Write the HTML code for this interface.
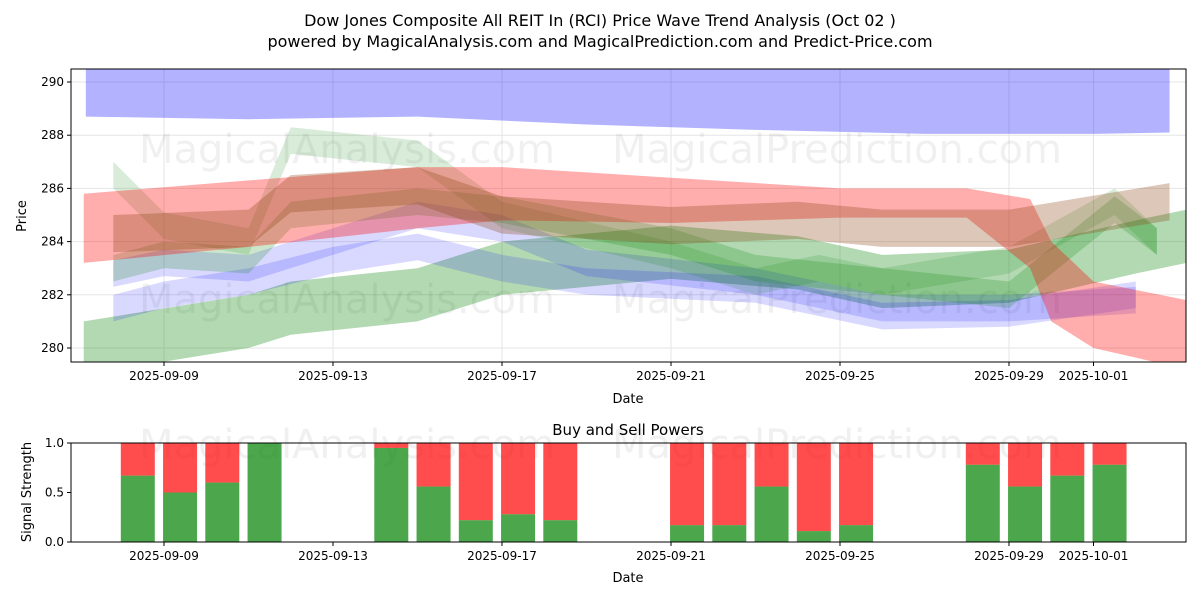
<!DOCTYPE html>
<html><head><meta charset="utf-8">
<style>
body{margin:0;background:#fff;font-family:"Liberation Sans","DejaVu Sans",sans-serif;}
svg text{font-family:"DejaVu Sans","Liberation Sans",sans-serif;}
</style></head>
<body>
<svg id="c" width="1200" height="600" viewBox="0 0 1200 600">
<text x="600" y="26" text-anchor="middle" font-size="16" fill="#000">Dow Jones Composite All REIT In (RCI) Price Wave Trend Analysis (Oct 02 )</text>
<text x="600" y="47" text-anchor="middle" font-size="16" fill="#000">powered by MagicalAnalysis.com and MagicalPrediction.com and Predict-Price.com</text>
<g id="topPanel"></g>
<g id="botPanel"></g>
</svg>
<script>
// ---- data ----
const xTickLabels = ["2025-09-09","2025-09-13","2025-09-17","2025-09-21","2025-09-25","2025-09-29","2025-10-01"];
const xTickDays = [9,13,17,21,25,29,31];
const yTicks = [280,282,284,286,288,290];
const sigTicks = [0,0.5,1.0];
const blueTopDays = [7.15,11,15,19,23,27,31,32.8];
const blueTopLow = [288.7,288.6,288.7,288.4,288.2,288.05,288.05,288.1];
const redDays = [7.1,11,15,17,21,25,28,29.5,30,31,33.2];
const redHigh = [285.8,286.3,286.8,286.8,286.4,286,286,285.6,284,282.5,281.8];
const redLow  = [283.2,283.8,284.5,284.8,284.7,284.9,284.9,283.0,281,280,279.2];
const tanDays = [7.8,11,12,15,17,21,24,26,29,32.8];
const tanMid  = [284.3,284.5,285.8,286.1,285,284.6,284.8,284.5,284.5,285.5];
const greenLowDays = [7.1,11,12,15,17,21,24,26,29,32,33.2];
const greenLowMid  = [280.0,281,281.5,282,283,283.6,283.2,282.5,282.7,283.8,284.2];
const greenUpDays = [7.8,9,11,12,15,17,21,23,24.5,26,29,31.5,32.5];
const greenUpMid  = [286.5,284.6,284,287.8,287.3,285,283.5,282.5,283,282.5,283.3,285.5,284];
const blueADays = [7.8,9,11,13,15,17,19,23,26,29,32];
const blueAMid  = [281.5,282,282.5,283.3,283.8,283,282.5,282.2,281.2,281.3,282];
const blueBDays = [7.8,9,11,13,15,17,19,23,26,29,32];
const blueBMid  = [282.8,283.2,283,284,285,284.5,283.2,282.5,281.5,281.5,281.8];
const tealDays = [7.8,9,11,12,15,17,21,23,26,29,31.5,32.5];
const tealMid  = [283,283.5,283.3,285,285.5,285.2,284,283,282.5,282,285.2,284];
const barDays  = [8.38,9.38,10.38,11.38,14.38,15.38,16.38,17.38,18.38,21.38,22.38,23.38,24.38,25.38,28.38,29.38,30.38,31.38];
const buyPower = [0.67,0.5,0.6,1.0,0.95,0.56,0.22,0.28,0.22,0.17,0.17,0.56,0.11,0.17,0.78,0.56,0.67,0.78];

const NS="http://www.w3.org/2000/svg";
const L=71,R=1186,T1=69,B1=362,T2=443,B2=542;
const x=d=>164+(d-9)*42.25;
const y=v=>82+(290-v)*26.6;
const ys=v=>B2-(B2-T2)*v;
function mk(p,tag,a,txt){const e=document.createElementNS(NS,tag);for(const k in a)e.setAttribute(k,a[k]);if(txt!==undefined)e.textContent=txt;p.appendChild(e);return e;}
const topG=document.getElementById('topPanel'),botG=document.getElementById('botPanel');
const defs=mk(document.getElementById('c'),'defs',{});
const cp=mk(defs,'clipPath',{id:'cp'});mk(cp,'rect',{x:L,y:T1,width:R-L,height:B1-T1});

xTickDays.forEach(d=>{const g=mk(topG,'line',{x1:x(d),x2:x(d),y1:T1,y2:B1,stroke:'#e5e5e5'});});
yTicks.forEach(v=>{const g=mk(topG,'line',{x1:L,x2:R,y1:y(v),y2:y(v),stroke:'#e5e5e5'});});
const wm=(p,xx,yy,t)=>{const e=mk(p,'text',{x:xx,y:yy,'font-size':40,fill:'#000','fill-opacity':0.06,'text-anchor':'middle'},t);};
wm(topG,347,163,'MagicalAnalysis.com');wm(topG,837,163,'MagicalPrediction.com');
wm(topG,347,313,'MagicalAnalysis.com');wm(topG,837,313,'MagicalPrediction.com');

const bands=mk(topG,'g',{'clip-path':'url(#cp)'});
function band(days,hi,lo,color,op,name){
  let pts=days.map((d,i)=>x(d)+','+y(hi[i]));
  pts=pts.concat(days.map((d,i)=>x(d)+','+y(lo[i])).reverse());
  const e=mk(bands,'polygon',{points:pts.join(' '),fill:color,'fill-opacity':op});
  
  
}
function bandMid(days,mid,hw,color,op,name){band(days,mid.map(v=>v+hw),mid.map(v=>v-hw),color,op,name);}
band(blueTopDays,blueTopDays.map(()=>291),blueTopLow,'#0000ff',0.3,'blue-top-band');
bandMid(greenLowDays,greenLowMid,1.0,'#008000',0.3,'green-lower-band');
bandMid(blueADays,blueAMid,0.5,'#0000ff',0.15,'blue-band-a');
bandMid(blueBDays,blueBMid,0.5,'#0000ff',0.15,'blue-band-b');
bandMid(tealDays,tealMid,0.5,'#008000',0.2,'teal-band');
bandMid(greenUpDays,greenUpMid,0.5,'#008000',0.15,'green-upper-band');
band(redDays,redHigh,redLow,'#ff0000',0.32,'red-band');
bandMid(tanDays,tanMid,0.7,'#8b4513',0.3,'brown-band');

const f1=mk(topG,'rect',{x:L,y:T1,width:R-L,height:B1-T1,fill:'none',stroke:'#000'});
xTickDays.forEach((d,i)=>{mk(topG,'line',{x1:x(d),x2:x(d),y1:B1,y2:B1+4,stroke:'#000'});const t=mk(topG,'text',{x:x(d),y:B1+18,'font-size':12,'text-anchor':'middle'},xTickLabels[i]);});
yTicks.forEach(v=>{mk(topG,'line',{x1:L-4,x2:L,y1:y(v),y2:y(v),stroke:'#000'});const t=mk(topG,'text',{x:L-7,y:y(v)+4,'font-size':12,'text-anchor':'end'},String(v));});
let tt=mk(topG,'text',{x:628,y:403,'font-size':13,'text-anchor':'middle'},'Date');
tt=mk(topG,'text',{x:26,y:216,'font-size':13,'text-anchor':'middle',transform:'rotate(-90 26 216)'},'Price');

tt=mk(botG,'text',{x:628,y:435,'font-size':15,'text-anchor':'middle'},'Buy and Sell Powers');
wm(botG,347,458,'MagicalAnalysis.com');wm(botG,837,458,'MagicalPrediction.com');
barDays.forEach((d,i)=>{
  const cx=x(d),w=34;
  const r=mk(botG,'rect',{x:cx-w/2,y:ys(1),width:w,height:ys(buyPower[i])-ys(1),fill:'#ff0000','fill-opacity':0.7});
  
  
  const g=mk(botG,'rect',{x:cx-w/2,y:ys(buyPower[i]),width:w,height:ys(0)-ys(buyPower[i]),fill:'#008000','fill-opacity':0.7});
  
  
});
const f2=mk(botG,'rect',{x:L,y:T2,width:R-L,height:B2-T2,fill:'none',stroke:'#000'});
xTickDays.forEach((d,i)=>{mk(botG,'line',{x1:x(d),x2:x(d),y1:B2,y2:B2+4,stroke:'#000'});const t=mk(botG,'text',{x:x(d),y:B2+18,'font-size':12,'text-anchor':'middle'},xTickLabels[i]);});
sigTicks.forEach(v=>{mk(botG,'line',{x1:L-4,x2:L,y1:ys(v),y2:ys(v),stroke:'#000'});const t=mk(botG,'text',{x:L-7,y:ys(v)+4,'font-size':12,'text-anchor':'end'},v.toFixed(1));});
tt=mk(botG,'text',{x:628,y:582,'font-size':13,'text-anchor':'middle'},'Date');
tt=mk(botG,'text',{x:31,y:492,'font-size':13,'text-anchor':'middle',transform:'rotate(-90 31 492)'},'Signal Strength');
</script>
</body></html>
